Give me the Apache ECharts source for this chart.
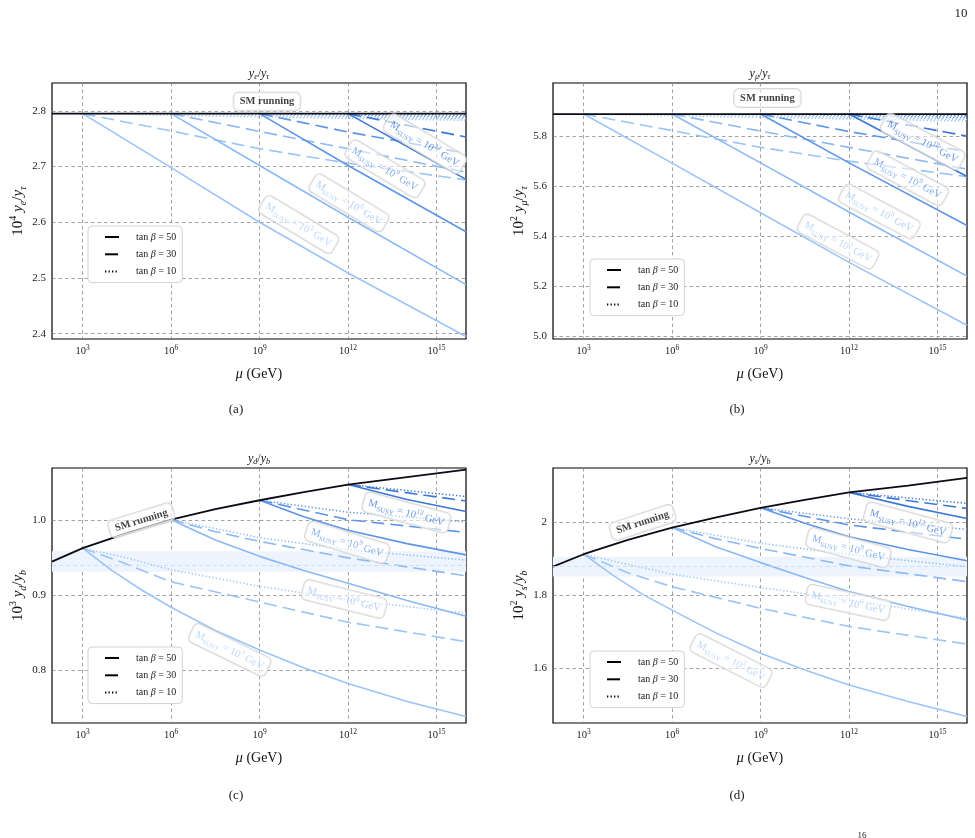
<!DOCTYPE html>
<html><head><meta charset="utf-8">
<script src="https://cdn.jsdelivr.net/npm/echarts@6/dist/echarts.min.js"></script>
<style>html,body{margin:0;padding:0;background:#fff}#c{width:975px;height:838px}</style>
</head><body><div id="c"></div>
<script>
// ---------------- DATA (x = log10(mu / GeV)) ----------------
const xRange = [1.96, 16];
const xTicks = [3, 6, 9, 12, 15];
const mSusyExp = [3, 6, 9, 12];

// (a) 10^4 y_e/y_tau
const aRange = [2.3905, 2.850];
const aTicks = [2.4, 2.5, 2.6, 2.7, 2.8];
const aTickLabels = ['2.4', '2.5', '2.6', '2.7', '2.8'];
const aSM = [[1.96, 2.795], [6, 2.795], [11, 2.795], [16, 2.795]];
const aM3_50 = [[3, 2.795], [6, 2.698], [9, 2.600], [12, 2.509], [16, 2.395]];
const aM3_30 = [[3, 2.795], [6, 2.764], [9, 2.732], [12, 2.706], [16, 2.676]];
const aM3_10 = [[3, 2.795], [16, 2.783]];
const aM6_50 = [[6, 2.795], [9, 2.702], [12, 2.609], [16, 2.488]];
const aM6_30 = [[6, 2.795], [9, 2.763], [12, 2.732], [16, 2.690]];
const aM6_10 = [[6, 2.795], [16, 2.786]];
const aM9_50 = [[9, 2.795], [12, 2.702], [16, 2.583]];
const aM9_30 = [[9, 2.795], [12, 2.762], [16, 2.724]];
const aM9_10 = [[9, 2.795], [16, 2.789]];
const aM12_50 = [[12, 2.795], [16, 2.677]];
const aM12_30 = [[12, 2.795], [16, 2.753]];
const aM12_10 = [[12, 2.795], [16, 2.792]];

// (b) 10^2 y_mu/y_tau
const bRange = [4.990, 6.012];
const bTicks = [5.0, 5.2, 5.4, 5.6, 5.8];
const bTickLabels = ['5.0', '5.2', '5.4', '5.6', '5.8'];
const bSM = [[1.96, 5.888], [6, 5.888], [11, 5.888], [16, 5.888]];
const bM3_50 = [[3, 5.888], [6, 5.692], [9, 5.494], [12, 5.296], [16, 5.045]];
const bM3_30 = [[3, 5.888], [6, 5.822], [9, 5.755], [12, 5.700], [16, 5.638]];
const bM3_10 = [[3, 5.888], [16, 5.860]];
const bM6_50 = [[6, 5.888], [9, 5.693], [12, 5.497], [16, 5.241]];
const bM6_30 = [[6, 5.888], [9, 5.820], [12, 5.755], [16, 5.668]];
const bM6_10 = [[6, 5.888], [16, 5.867]];
const bM9_50 = [[9, 5.888], [12, 5.693], [16, 5.443]];
const bM9_30 = [[9, 5.888], [12, 5.818], [16, 5.738]];
const bM9_10 = [[9, 5.888], [16, 5.874]];
const bM12_50 = [[12, 5.888], [16, 5.639]];
const bM12_30 = [[12, 5.888], [16, 5.800]];
const bM12_10 = [[12, 5.888], [16, 5.881]];

// (c) 10^3 y_d/y_b
const cRange = [0.7293, 1.0701];
const cTicks = [0.8, 0.9, 1.0];
const cTickLabels = ['0.8', '0.9', '1.0'];
const cBand = [0.9315, 0.9448, 0.959];
const cSM = [[1.96, 0.945], [3, 0.963], [4.5, 0.983], [6, 1.001], [7.5, 1.015], [9, 1.027], [10.5, 1.038], [12, 1.048], [14, 1.058], [16, 1.068]];
const cM3_50 = [[3, 0.963], [4, 0.933], [5, 0.907], [6, 0.884], [7.5, 0.853], [9, 0.827], [10.5, 0.803], [12, 0.782], [14, 0.758], [16, 0.738]];
const cM3_30 = [[3, 0.963], [4.4, 0.943], [6, 0.918], [9, 0.891], [12, 0.864], [16, 0.838]];
const cM3_10 = [[3, 0.963], [4.5, 0.950], [6, 0.934], [9, 0.912], [12, 0.894], [16, 0.876]];
const cM6_50 = [[6, 1.001], [7.5, 0.974], [9, 0.952], [10.5, 0.933], [12, 0.916], [14, 0.893], [16, 0.872]];
const cM6_30 = [[6, 1.001], [7.5, 0.985], [9, 0.972], [12, 0.950], [16, 0.926]];
const cM6_10 = [[6, 1.001], [9, 0.977], [12, 0.961], [16, 0.947]];
const cM9_50 = [[9, 1.027], [10.5, 1.005], [12, 0.987], [14, 0.969], [16, 0.954]];
const cM9_30 = [[9, 1.027], [12, 1.001], [16, 0.984]];
const cM9_10 = [[9, 1.027], [12, 1.011], [16, 0.998]];
const cM12_50 = [[12, 1.048], [14, 1.028], [16, 1.012]];
const cM12_30 = [[12, 1.048], [16, 1.026]];
const cM12_10 = [[12, 1.048], [16, 1.032]];

// (d) 10^2 y_s/y_b
const dRange = [1.451, 2.149];
const dTicks = [1.6, 1.8, 2.0];
const dTickLabels = ['1.6', '1.8', '2'];
const dBand = [1.852, 1.879, 1.906];
const dSM = [[1.96, 1.879], [3, 1.913], [4.5, 1.952], [6, 1.986], [7.5, 2.014], [9, 2.040], [10.5, 2.062], [12, 2.082], [14, 2.101], [16, 2.122]];
const dM3_50 = [[3, 1.913], [4, 1.855], [5, 1.803], [6, 1.760], [7.5, 1.697], [9, 1.642], [10.5, 1.596], [12, 1.555], [14, 1.510], [16, 1.469]];
const dM3_30 = [[3, 1.913], [4.5, 1.862], [6, 1.824], [9, 1.765], [12, 1.715], [16, 1.667]];
const dM3_10 = [[3, 1.913], [4.5, 1.885], [6, 1.858], [9, 1.822], [12, 1.788], [16, 1.738]];
const dM6_50 = [[6, 1.986], [7.5, 1.933], [9, 1.890], [10.5, 1.849], [12, 1.811], [14, 1.770], [16, 1.733]];
const dM6_30 = [[6, 1.986], [7.5, 1.955], [9, 1.929], [12, 1.881], [16, 1.838]];
const dM6_10 = [[6, 1.986], [9, 1.943], [12, 1.912], [16, 1.879]];
const dM9_50 = [[9, 2.040], [10.5, 1.998], [12, 1.961], [14, 1.926], [16, 1.895]];
const dM9_30 = [[9, 2.040], [12, 1.993], [16, 1.954]];
const dM9_10 = [[9, 2.040], [12, 2.010], [16, 1.981]];
const dM12_50 = [[12, 2.082], [14, 2.044], [16, 2.011]];
const dM12_30 = [[12, 2.082], [16, 2.038]];
const dM12_10 = [[12, 2.082], [16, 2.052]];

// ---------------- STYLE / LAYOUT ----------------
const FONT = "'Liberation Serif', 'DejaVu Serif', serif";
const massColors = ['#9bc4f7', '#8cb9f3', '#5e95e6', '#3c77d6'];
const dashTypes = { 50: 'solid', 30: [13, 6], 10: [1.3, 2.2] };
const grids = [
  { left: 52, top: 83, width: 414, height: 256 },
  { left: 553, top: 83, width: 414, height: 256 },
  { left: 52, top: 468, width: 414, height: 255 },
  { left: 553, top: 468, width: 414, height: 255 }
];

function rgba(hex, a) {
  const n = parseInt(hex.slice(1), 16);
  return 'rgba(' + (n >> 16) + ',' + ((n >> 8) & 255) + ',' + (n & 255) + ',' + a + ')';
}

const panels = [
  { range: aRange, ticks: aTicks, tl: aTickLabels, sm: aSM,
    lines: [[aM3_50, aM3_30, aM3_10], [aM6_50, aM6_30, aM6_10], [aM9_50, aM9_30, aM9_10], [aM12_50, aM12_30, aM12_10]],
    yname: ['10', '4', 'e', 'τ'], title: ['e', 'τ'],
    smLabel: [9.25, 2.817, 0], mLabels: [[10.33, 2.596, -31], [12.03, 2.635, -31], [13.25, 2.696, -31], [14.60, 2.741, -31]],
    legend: [88, 226] },
  { range: bRange, ticks: bTicks, tl: bTickLabels, sm: bSM,
    lines: [[bM3_50, bM3_30, bM3_10], [bM6_50, bM6_30, bM6_10], [bM9_50, bM9_30, bM9_10], [bM12_50, bM12_30, bM12_10]],
    yname: ['10', '2', 'μ', 'τ'], title: ['μ', 'τ'],
    smLabel: [9.23, 5.952, 0], mLabels: [[11.63, 5.379, -28], [13.03, 5.499, -28], [13.99, 5.632, -28], [14.50, 5.778, -28]],
    legend: [590, 259] },
  { range: cRange, ticks: cTicks, tl: cTickLabels, sm: cSM, band: cBand,
    lines: [[cM3_50, cM3_30, cM3_10], [cM6_50, cM6_30, cM6_10], [cM9_50, cM9_30, cM9_10], [cM12_50, cM12_30, cM12_10]],
    yname: ['10', '3', 'd', 'b'], title: ['d', 'b'],
    smLabel: [4.99, 1.0, 17], mLabels: [[7.99, 0.827, -26], [11.87, 0.895, -14], [11.97, 0.9707, -17], [13.98, 1.0107, -15]],
    legend: [88, 647] },
  { range: dRange, ticks: dTicks, tl: dTickLabels, sm: dSM, band: dBand,
    lines: [[dM3_50, dM3_30, dM3_10], [dM6_50, dM6_30, dM6_10], [dM9_50, dM9_30, dM9_10], [dM12_50, dM12_30, dM12_10]],
    yname: ['10', '2', 's', 'b'], title: ['s', 'b'],
    smLabel: [5.0, 2.0, 18], mLabels: [[8.0, 1.622, -27], [11.97, 1.781, -12], [11.98, 1.931, -15], [14.0, 2.0, -15]],
    legend: [590, 651] }
];

const gridLineStyle = { color: '#8a8a8a', type: [3.5, 3], width: 0.8 };
const xRich = {
  n: { fontFamily: FONT, fontSize: 10.5, color: '#222', lineHeight: 15 },
  p: { fontFamily: FONT, fontSize: 7.5, color: '#222', lineHeight: 8, verticalAlign: 'top' }
};
const nameRich = {
  n: { fontFamily: FONT, fontSize: 15, color: '#111', lineHeight: 20 },
  i: { fontFamily: FONT, fontSize: 15, fontStyle: 'italic', color: '#111', lineHeight: 20 },
  p: { fontFamily: FONT, fontSize: 10, color: '#111', lineHeight: 10, verticalAlign: 'top' },
  s: { fontFamily: FONT, fontSize: 10, fontStyle: 'italic', color: '#111', lineHeight: 10, verticalAlign: 'bottom' }
};
const xNameRich = {
  n: { fontFamily: FONT, fontSize: 14, color: '#111', lineHeight: 18 },
  i: { fontFamily: FONT, fontSize: 14, fontStyle: 'italic', color: '#111', lineHeight: 18 }
};

const xAxes = [], yAxes = [], series = [], legends = [], graphics = [];

panels.forEach((P, gi) => {
  xAxes.push({
    type: 'value', gridIndex: gi, min: xRange[0], max: xRange[1],
    axisLine: { show: false }, axisTick: { show: false, customValues: xTicks },
    axisLabel: { customValues: xTicks, margin: 5, formatter: v => '{n|10}{p|' + Math.round(v) + '}', rich: xRich },
    splitLine: { show: true, lineStyle: gridLineStyle },
    name: '{i|μ}{n| (GeV)}', nameLocation: 'middle', nameGap: 26, nameTextStyle: { rich: xNameRich }
  });
  yAxes.push({
    type: 'value', gridIndex: gi, min: P.range[0], max: P.range[1],
    axisLine: { show: false }, axisTick: { show: false, customValues: P.ticks },
    axisLabel: { customValues: P.ticks, margin: 6, fontFamily: FONT, fontSize: 11, color: '#222',
      formatter: v => { const k = P.ticks.findIndex(t => Math.abs(t - v) < 1e-6); return k >= 0 ? P.tl[k] : ''; } },
    splitLine: { show: true, lineStyle: gridLineStyle },
    name: '{n|' + P.yname[0] + '}{p|' + P.yname[1] + '}{n| }{i|y}{s|' + P.yname[2] + '}{n|/}{i|y}{s|' + P.yname[3] + '}',
    nameLocation: 'middle', nameRotate: 90, nameGap: 24, nameTextStyle: { rich: nameRich }
  });

  if (P.band) {
    series.push({
      type: 'line', xAxisIndex: gi, yAxisIndex: gi, data: [], z: 1, silent: true,
      markArea: { silent: true, itemStyle: { color: '#edf4fd' }, data: [[{ yAxis: P.band[0] }, { yAxis: P.band[2] }]] },
      markLine: { silent: true, symbol: 'none', label: { show: false },
        lineStyle: { color: '#c3d9f6', type: [4, 3], width: 0.8 }, data: [{ yAxis: P.band[1] }] }
    });
  }

  P.lines.forEach((trio, mi) => {
    [50, 30, 10].forEach((tb, ti) => {
      series.push({
        type: 'line', xAxisIndex: gi, yAxisIndex: gi, data: trio[ti], symbol: 'none', silent: true,
        z: 2 + mi * 0.1,
        lineStyle: { color: massColors[mi], width: tb === 10 ? 1.5 : 1.6, type: dashTypes[tb] },
        emphasis: { disabled: true }
      });
    });
  });

  series.push({
    type: 'line', xAxisIndex: gi, yAxisIndex: gi, data: P.sm, symbol: 'none', silent: true, z: 4,
    lineStyle: { color: '#0b0b14', width: 1.8 }, emphasis: { disabled: true }
  });

  // annotation boxes
  const labData = [];
  labData.push({
    value: [P.smLabel[0], P.smLabel[1]],
    label: { formatter: 'SM running', rotate: P.smLabel[2], color: '#111', fontWeight: 'bold', fontSize: 10.5,
      fontFamily: FONT, padding: [4, 6, 3, 6] }
  });
  P.mLabels.forEach((L, mi) => {
    const col = rgba(massColors[mi], mi < 2 ? 0.8 : 0.95);
    labData.push({
      value: [L[0], L[1]],
      label: {
        rotate: L[2], padding: [3, 5, 2, 5],
        formatter: '{m|M}{s|SUSY}{m| = 10}{p|' + mSusyExp[mi] + '}{m| GeV}',
        rich: {
          m: { fontFamily: FONT, fontSize: 10.5, color: col, lineHeight: 15 },
          s: { fontFamily: FONT, fontSize: 7, color: col, lineHeight: 8, verticalAlign: 'bottom' },
          p: { fontFamily: FONT, fontSize: 7, color: col, lineHeight: 8, verticalAlign: 'top' }
        }
      }
    });
  });
  series.push({
    type: 'scatter', xAxisIndex: gi, yAxisIndex: gi, data: labData, symbolSize: 1, silent: true, z: 10,
    itemStyle: { color: 'rgba(0,0,0,0)' },
    label: { show: true, position: 'inside', backgroundColor: 'rgba(255,255,255,0.72)',
      borderColor: '#cfcfcf', borderWidth: 1, borderRadius: 5 },
    emphasis: { disabled: true }
  });

  legends.push({
    data: ['tb50', 'tb30', 'tb10'], orient: 'vertical', left: P.legend[0], top: P.legend[1],
    itemWidth: 14, itemHeight: 10, itemGap: 7.3, padding: [6, 6, 6, 16], selectedMode: false,
    backgroundColor: '#fff', borderColor: '#d2d2d2', borderWidth: 1, borderRadius: 4,
    itemStyle: { opacity: 0, color: 'rgba(0,0,0,0)', borderWidth: 0 },
    formatter: n => '{r|tan }{i|β}{r| = ' + n.slice(2) + '}',
    textStyle: { padding: [0, 0, 0, 12], rich: {
      r: { fontFamily: FONT, fontSize: 10, color: '#222' },
      i: { fontFamily: FONT, fontSize: 10, fontStyle: 'italic', color: '#222' } } }
  });

  const g = grids[gi];
  const titleRich = {
    i: { fontFamily: FONT, fontSize: 12, fontStyle: 'italic', fill: '#111', lineHeight: 14 },
    n: { fontFamily: FONT, fontSize: 12, fill: '#111', lineHeight: 14 },
    s: { fontFamily: FONT, fontSize: 8, fontStyle: 'italic', fill: '#111', lineHeight: 8, verticalAlign: 'bottom' }
  };
  graphics.push({
    type: 'text', x: g.left + g.width / 2, y: g.top - 9,
    style: { text: '{i|y}{s|' + P.title[0] + '}{n|/}{i|y}{s|' + P.title[1] + '}', rich: titleRich,
      align: 'center', verticalAlign: 'middle' }
  });
});

// legend dummy series (black line styles)
[['tb50', 50, 2], ['tb30', 30, 1.6], ['tb10', 10, 1.6]].forEach(([n, tb, w]) => {
  series.push({ type: 'line', name: n, xAxisIndex: 0, yAxisIndex: 0, data: [], symbol: 'none',
    lineStyle: { color: '#000', width: w, type: dashTypes[tb] }, itemStyle: { color: '#000' } });
});

const subFont = '13px ' + FONT;
[['(a)', 236, 410], ['(b)', 737, 410], ['(c)', 236, 796], ['(d)', 737, 796], ['10', 961, 14]].forEach(([t, x, y]) => {
  graphics.push({ type: 'text', x, y, style: { text: t, font: subFont, fill: '#222', align: 'center', verticalAlign: 'middle' } });
});
graphics.push({ type: 'text', x: 862, y: 836, style: { text: '16', font: '9px ' + FONT, fill: '#222', align: 'center', verticalAlign: 'middle' } });

const chart = echarts.init(document.getElementById('c'), null, { renderer: 'canvas' });
chart.setOption({
  backgroundColor: '#ffffff',
  animation: false,
  grid: grids.map(g => Object.assign({ show: true, borderColor: '#000', borderWidth: 1.2,
    backgroundColor: 'transparent', containLabel: false, outerBoundsMode: 'none' }, g)),
  xAxis: xAxes, yAxis: yAxes, series, legend: legends, graphic: graphics
});
</script></body></html>
